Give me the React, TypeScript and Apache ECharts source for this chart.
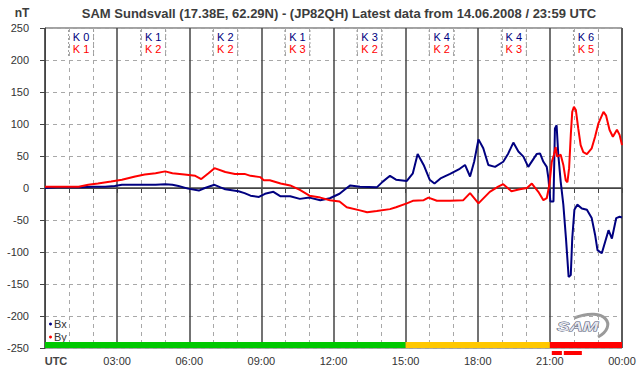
import React, { useEffect, useRef } from "react";
import * as echarts from "echarts";

// ---- data ----
const bxTimes = [0, 0.5, 1.0, 1.5, 2.0, 2.5, 2.9, 3.2, 3.7, 4.2, 4.6, 5.0, 5.3, 5.55, 5.95, 6.4, 6.65, 7.05, 7.3, 7.5, 8.05, 8.3, 8.55, 8.9, 9.15, 9.5, 9.8, 10.2, 10.6, 11.0, 11.45, 11.85, 12.25, 12.55, 12.7, 13.1, 13.8, 14.05, 14.35, 14.6, 15.05, 15.3, 15.5, 15.75, 16.0, 16.2, 16.45, 16.85, 17.25, 17.47, 17.68, 17.85, 18.03, 18.23, 18.44, 18.72, 19.06, 19.27, 19.48, 19.69, 19.9, 20.1, 20.45, 20.59, 20.73, 20.87, 20.94, 21.02, 21.15, 21.21, 21.28, 21.35, 21.45, 21.56, 21.67, 21.78, 21.87, 21.93, 22.02, 22.14, 22.33, 22.54, 22.74, 22.88, 22.98, 23.16, 23.3, 23.44, 23.58, 23.76, 23.9, 24.0];
const bxValues = [0, 1, 1, 1, 2, 2, 3, 5, 5, 5, 5, 6, 5, 3, -1, -4, 0, 5, 1, -2, -5, -8, -12, -14, -9, -6, -13, -13, -17, -15, -19, -16, -9, 0, 4, 2, 1, 10, 19, 13, 11, 23, 53, 36, 13, 7, 15, 22, 30, 36, 18, 41, 76, 62, 36, 33, 41, 54, 71, 57, 49, 33, 53, 54, 41, 33, 15, -21, -21, 93, 98, 52, 10, -26, -79, -139, -136, -79, -34, -26, -32, -34, -47, -73, -97, -102, -84, -66, -79, -47, -45, -46];

const byTimes = [0, 0.5, 1.0, 1.4, 1.8, 2.2, 2.75, 3.2, 3.75, 4.15, 4.6, 5.0, 5.3, 5.8, 6.25, 6.5, 6.8, 7.05, 7.5, 7.9, 8.3, 8.55, 8.95, 9.1, 9.35, 9.8, 10.2, 10.6, 11.0, 11.45, 11.85, 12.25, 12.55, 13.1, 13.4, 13.8, 14.35, 14.6, 15.05, 15.3, 15.75, 15.95, 16.3, 16.85, 17.4, 17.68, 18.03, 18.5, 18.85, 19.06, 19.4, 19.75, 20.05, 20.25, 20.52, 20.73, 20.87, 20.98, 21.08, 21.17, 21.24, 21.3, 21.45, 21.56, 21.66, 21.73, 21.8, 21.87, 21.93, 22.0, 22.08, 22.18, 22.28, 22.39, 22.54, 22.74, 22.88, 23.02, 23.23, 23.34, 23.48, 23.62, 23.79, 23.9, 24.0];
const byValues = [2, 2, 2, 2, 5, 7, 10, 13, 18, 21, 23, 26, 23, 21, 19, 14, 23, 31, 25, 22, 22, 19, 17, 12, 12, 7, 4, -3, -12, -15, -19, -21, -30, -35, -38, -36, -33, -30, -24, -20, -19, -15, -20, -20, -19, -8, -24, -6, 2, 6, -5, -2, 0, 7, -6, -19, -16, 5, 41, 52, 64, 49, 52, 36, 12, 9, 31, 83, 119, 127, 122, 93, 67, 56, 53, 62, 80, 101, 119, 113, 91, 80, 91, 83, 67];

const kBx = [0, 1, 2, 1, 3, 4, 4, 6];
const kBy = [1, 2, 2, 3, 2, 2, 3, 5];

// activity band: [start hour, end hour, level]
const activityStart = [0, 15, 21];
const activityEnd = [15, 21, 24];
const activityLevel = [0, 1, 2];
const activityColors = ["#00c800", "#ffc800", "#ff0000"];

// storm markers below the axis
const stormStart = [21.08, 21.58];
const stormEnd = [21.5, 22.33];

const seriesNames = ["Bx", "By"];
const titleText = "SAM Sundsvall (17.38E, 62.29N) - (JP82QH) Latest data from 14.06.2008 / 23:59 UTC";

const FONT = "Liberation Sans, Arial, sans-serif";

export default function App() {
  const ref = useRef<HTMLDivElement>(null);

  useEffect(() => {
    if (!ref.current) return;
    const chart = echarts.init(ref.current, null, { renderer: "svg" });

    const bxData = bxTimes.map((t, i) => [t, bxValues[i]]);
    const byData = byTimes.map((t, i) => [t, byValues[i]]);

    const option: any = {
      animation: false,
      backgroundColor: "#ffffff",
      textStyle: { fontFamily: FONT },
      grid: {
        left: 45,
        right: 20,
        top: 28,
        bottom: 28,
        show: true,
        borderColor: "#444",
        borderWidth: 1,
        backgroundColor: "transparent",
      },
      legend: {
        data: seriesNames,
        orient: "vertical",
        left: 49,
        top: 318,
        padding: 0,
        itemGap: 1,
        itemWidth: 3,
        itemHeight: 3,
        icon: "circle",
        textStyle: { fontSize: 11, color: "#333", fontFamily: FONT, lineHeight: 12, padding: [0, 0, 0, -3] },
        selectedMode: false,
      },
      xAxis: {
        type: "value",
        min: 0,
        max: 24,
        interval: 3,
        axisLine: { show: true, lineStyle: { color: "#444", width: 1 } },
        axisTick: { show: true, length: 5, lineStyle: { color: "#444" } },
        minorTick: { show: true, splitNumber: 3, length: 5, lineStyle: { color: "#444" } },
        splitLine: { show: true, lineStyle: { color: "#444", width: 1.5 } },
        minorSplitLine: { show: true, lineStyle: { color: "#a8a8a8", width: 1, type: [4, 4] } },
        axisLabel: {
          margin: 7,
          fontSize: 11,
          color: "#333",
          fontFamily: FONT,
          formatter: (v: number) => {
            if (v === 0) return "{u|UTC}";
            const h = Math.round(v) % 24;
            return (h < 10 ? "0" : "") + h + ":00";
          },
          rich: {
            u: { fontWeight: "bold", fontSize: 11, color: "#444", padding: [0, 0, 0, 22], fontFamily: FONT },
          },
        },
      },
      yAxis: {
        type: "value",
        min: -250,
        max: 250,
        interval: 50,
        axisLine: { show: true, lineStyle: { color: "#444", width: 1 } },
        axisTick: { show: true, length: 5, lineStyle: { color: "#444" } },
        splitLine: { show: true, lineStyle: { color: "#a8a8a8", width: 1, type: [4, 4] } },
        axisLabel: { margin: 16, fontSize: 11, color: "#333", fontFamily: FONT },
      },
      series: [
        {
          name: "Bx",
          type: "line",
          data: bxData,
          showSymbol: false,
          symbol: "none",
          itemStyle: { color: "#000080" },
          lineStyle: { color: "#000080", width: 2 },
          z: 3,
          markLine: {
            silent: true,
            symbol: "none",
            label: { show: false },
            lineStyle: { color: "#444", width: 1.5, type: "solid" },
            data: [{ yAxis: 0 }],
            z: 2,
          },
        },
        {
          name: "By",
          type: "line",
          data: byData,
          showSymbol: false,
          symbol: "none",
          itemStyle: { color: "#ff0000" },
          lineStyle: { color: "#ff0000", width: 2 },
          z: 4,
        },
        {
          type: "custom",
          silent: true,
          data: kBx.map((k, i) => [i, k, kBy[i]]),
          z: 5,
          renderItem: (params: any, api: any) => {
            const i = api.value(0);
            const cx = api.coord([i * 3 + 1.5, 0])[0];
            const top = api.coord([0, 250])[1];
            const dash = { stroke: "#9a9a9a", lineWidth: 1, lineDash: [2, 2] };
            return {
              type: "group",
              children: [
                { type: "line", shape: { x1: cx - 12.5, y1: top + 2, x2: cx - 12.5, y2: top + 28 }, style: dash },
                { type: "line", shape: { x1: cx + 12.5, y1: top + 2, x2: cx + 12.5, y2: top + 28 }, style: dash },
                {
                  type: "text",
                  x: cx,
                  y: top + 8.5,
                  style: { text: "K " + api.value(1), fill: "#000080", font: "11px " + FONT, align: "center", verticalAlign: "middle" },
                },
                {
                  type: "text",
                  x: cx,
                  y: top + 21,
                  style: { text: "K " + api.value(2), fill: "#ff0000", font: "11px " + FONT, align: "center", verticalAlign: "middle" },
                },
              ],
            };
          },
        },
        {
          type: "custom",
          silent: true,
          data: activityStart.map((s, i) => [s, activityEnd[i], activityLevel[i]]),
          z: 6,
          renderItem: (params: any, api: any) => {
            const p1 = api.coord([api.value(0), -250]);
            const p2 = api.coord([api.value(1), -250]);
            return {
              type: "rect",
              shape: { x: p1[0], y: p1[1] - 6, width: p2[0] - p1[0], height: 6 },
              style: { fill: activityColors[api.value(2)] },
            };
          },
        },
        {
          type: "custom",
          silent: true,
          clip: false,
          data: stormStart.map((s, i) => [s, stormEnd[i]]),
          z: 6,
          renderItem: (params: any, api: any) => {
            const p1 = api.coord([api.value(0), -250]);
            const p2 = api.coord([api.value(1), -250]);
            return {
              type: "rect",
              shape: { x: p1[0], y: p1[1] + 3, width: p2[0] - p1[0], height: 4 },
              style: { fill: "#ff0000" },
            };
          },
        },
      ],
      graphic: [
        {
          type: "text",
          x: 339,
          y: 13,
          style: { text: titleText, font: "bold 13px " + FONT, fill: "#3c3c3c", align: "center", verticalAlign: "middle" },
        },
        {
          type: "text",
          x: 22,
          y: 13,
          style: { text: "nT", font: "bold 12px " + FONT, fill: "#3c3c3c", align: "center", verticalAlign: "middle" },
        },
        {
          type: "group",
          z: 10,
          children: [
            {
              type: "bezierCurve",
              shape: { x1: 574, y1: 318, cpx1: 606, cpy1: 306, cpx2: 618, cpy2: 326, x2: 598, y2: 337 },
              style: { stroke: "#9a9a9a", lineWidth: 3, fill: null },
            },
            {
              type: "text",
              x: 557,
              y: 327,
              scaleX: 1.55,
              style: {
                text: "SAM",
                font: "italic bold 12px " + FONT,
                fill: "#e4e6ee",
                stroke: "#4c5470",
                lineWidth: 0.8,
                align: "left",
                verticalAlign: "middle",
              },
            },
          ],
        },
      ],
    };

    chart.setOption(option);
    return () => chart.dispose();
  }, []);

  return (
    <div
      ref={ref}
      style={{ position: "fixed", left: 0, top: 0, width: 642, height: 376, background: "#fff" }}
    />
  );
}
